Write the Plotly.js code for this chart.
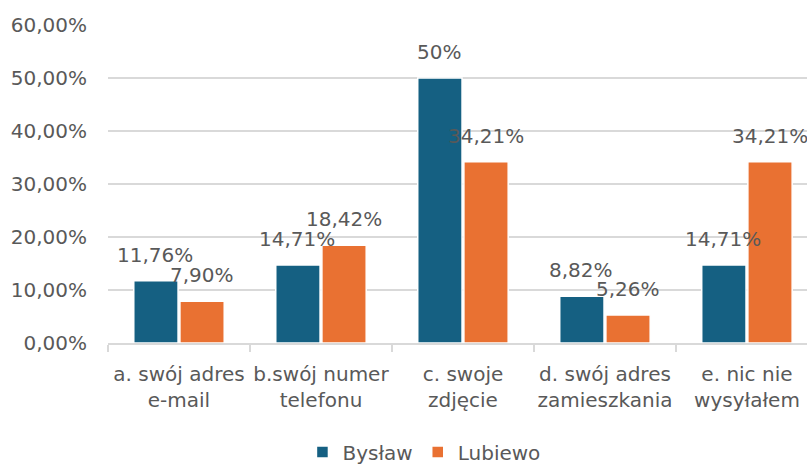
<!DOCTYPE html>
<html>
<head>
<meta charset="utf-8">
<script src="https://cdn.plot.ly/plotly-3.0.1.min.js"></script>
<style>html,body{margin:0;padding:0;background:#fff;}#chart{width:807px;height:466px;}</style>
</head>
<body>
<div id="chart"></div>
<script>
var categories = ["a. swój adres<br>e-mail", "b.swój numer<br>telefonu", "c. swoje<br>zdjęcie", "d. swój adres<br>zamieszkania", "e. nic nie<br>wysyłałem"];
var byslawValues = [11.76, 14.71, 50, 8.82, 14.71];
var byslawLabels = ["11,76%", "14,71%", "50%", "8,82%", "14,71%"];
var lubiewoValues = [7.90, 18.42, 34.21, 5.26, 34.21];
var lubiewoLabels = ["7,90%", "18,42%", "34,21%", "5,26%", "34,21%"];
var tickValues = [0, 10, 20, 30, 40, 50, 60];
var tickLabels = ["0,00%", "10,00%", "20,00%", "30,00%", "40,00%", "50,00%", "60,00%"];

var FONT = "DejaVu Sans, sans-serif";
var GRAY = "#595959";

var traces = [
  {type: "bar", name: "Bysław", x: categories, y: byslawValues,
   marker: {color: "#156082", line: {color: "#ffffff", width: 1.5}}, hoverinfo: "none"},
  {type: "bar", name: "Lubiewo", x: categories, y: lubiewoValues,
   marker: {color: "#E97132", line: {color: "#ffffff", width: 1.5}}, hoverinfo: "none"}
];

var annotations = [];
function addLabels(vals, labels, shift) {
  for (var i = 0; i < vals.length; i++) {
    annotations.push({x: categories[i], y: vals[i], xref: "x", yref: "y", text: labels[i],
      showarrow: false, xshift: shift, yshift: 26, yanchor: "middle", xanchor: "center",
      font: {family: FONT, size: 20, color: GRAY}});
  }
}
addLabels(byslawValues, byslawLabels, -23.5);
addLabels(lubiewoValues, lubiewoLabels, 23.5);

var layout = {
  width: 807, height: 466,
  margin: {l: 108, r: 0, t: 25, b: 123, autoexpand: false},
  paper_bgcolor: "#ffffff", plot_bgcolor: "#ffffff",
  barmode: "group", bargap: 0.35, bargroupgap: 0.04,
  font: {family: FONT, size: 20, color: GRAY},
  showlegend: true,
  legend: {orientation: "h", x: 0.452, xanchor: "center", y: -0.343, yanchor: "middle",
    font: {family: FONT, size: 20, color: GRAY}, itemwidth: 30, traceorder: "normal"},
  xaxis: {type: "category", range: [-0.5, 4.423], showline: true, linecolor: "#d9d9d9", linewidth: 1.5,
    ticks: "outside", tickson: "boundaries", ticklen: 7, tickcolor: "#d9d9d9", tickwidth: 1.5,
    ticklabelstandoff: 12, tickangle: 0,
    showgrid: false, tickfont: {family: FONT, size: 20, color: GRAY}, fixedrange: true},
  yaxis: {range: [0, 60], tickvals: tickValues, ticktext: tickLabels, showgrid: true,
    gridcolor: "#d9d9d9", gridwidth: 1.5, zeroline: false, showline: false,
    ticks: "", ticklabelstandoff: 20, tickfont: {family: FONT, size: 20, color: GRAY}, fixedrange: true},
  annotations: annotations
};

Plotly.newPlot("chart", traces, layout, {displayModeBar: false, staticPlot: true});
</script>
</body>
</html>
